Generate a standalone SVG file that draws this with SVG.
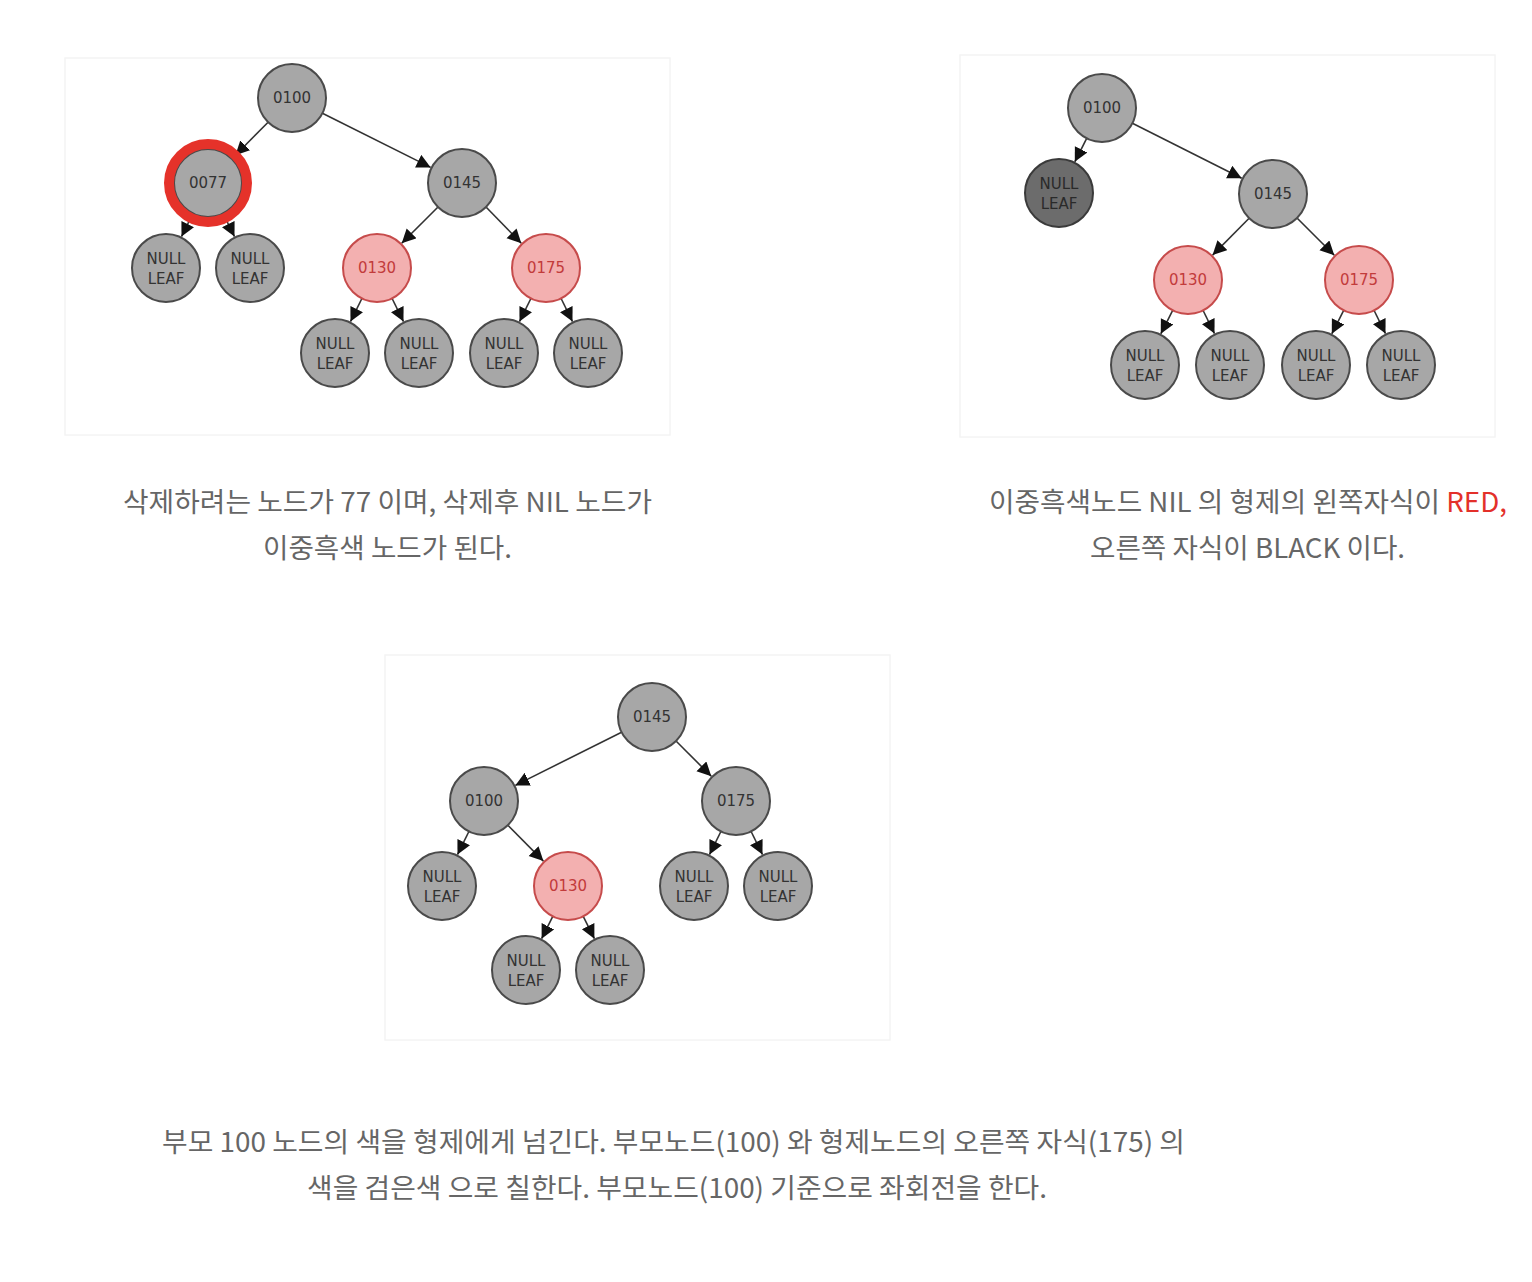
<svg xmlns="http://www.w3.org/2000/svg" width="1532" height="1282" viewBox="0 0 1532 1282">
<defs>
<marker id="arr" markerUnits="userSpaceOnUse" markerWidth="16" markerHeight="16" refX="14" refY="7" orient="auto">
<path d="M0,0 L14,7 L0,14 z" fill="#111"/>
</marker>
<style>
.frame{fill:#fff;stroke:#f4f4f4;stroke-width:1.5}
.n{fill:#a7a7a7;stroke:#4a4a4a;stroke-width:2}
.nd{fill:#6c6c6c;stroke:#3a3a3a;stroke-width:2}
.nr{fill:#f3b0b0;stroke:#c64b4b;stroke-width:2}
.ring{fill:none;stroke:#e5322a;stroke-width:10}
.t{font-family:"DejaVu Sans",sans-serif;font-size:15px;fill:#333;text-anchor:middle}
.tr{font-family:"DejaVu Sans",sans-serif;font-size:15px;fill:#c23b3b;text-anchor:middle}
.e{stroke:#333;stroke-width:1.6;fill:none;marker-end:url(#arr)}
.cap{font-family:"Noto Sans CJK KR","Noto Sans",sans-serif;font-size:27px;fill:#666;text-anchor:middle}
</style>
</defs>
<rect width="1532" height="1282" fill="#fff"/>
<rect class="frame" x="65" y="58" width="605" height="377"/>
<rect class="frame" x="960" y="55" width="535" height="382"/>
<rect class="frame" x="385" y="655" width="505" height="385"/>

<g id="connectors">
<line class="e" x1="268.1" y1="122.2" x2="235.4" y2="155.3"/>
<line class="e" x1="322.4" y1="113.2" x2="430.7" y2="167.4"/>
<line class="e" x1="192.9" y1="213.5" x2="181.5" y2="236.6"/>
<line class="e" x1="223.1" y1="213.5" x2="234.5" y2="236.6"/>
<line class="e" x1="438" y1="207" x2="401.7" y2="243.3"/>
<line class="e" x1="486" y1="207" x2="521.3" y2="243.3"/>
<line class="e" x1="361.9" y1="298.5" x2="350.5" y2="321.6"/>
<line class="e" x1="392.1" y1="298.5" x2="403.5" y2="321.6"/>
<line class="e" x1="530.9" y1="298.5" x2="519.5" y2="321.6"/>
<line class="e" x1="561.1" y1="298.5" x2="572.5" y2="321.6"/>

<line class="e" x1="1086.7" y1="138.3" x2="1074.8" y2="161.8"/>
<line class="e" x1="1132.4" y1="123.3" x2="1241.7" y2="178.3"/>
<line class="e" x1="1249.1" y1="218.2" x2="1212.6" y2="255.1"/>
<line class="e" x1="1297" y1="218" x2="1334.3" y2="255.3"/>
<line class="e" x1="1172.7" y1="310.3" x2="1160.8" y2="333.8"/>
<line class="e" x1="1203.1" y1="310.5" x2="1214.5" y2="333.6"/>
<line class="e" x1="1343.7" y1="310.3" x2="1331.8" y2="333.8"/>
<line class="e" x1="1374.1" y1="310.5" x2="1385.5" y2="333.6"/>

<line class="e" x1="621.6" y1="732.2" x2="515.3" y2="785.4"/>
<line class="e" x1="676" y1="741" x2="711.3" y2="776.3"/>
<line class="e" x1="468.9" y1="831.5" x2="457.5" y2="854.6"/>
<line class="e" x1="507.9" y1="825.2" x2="543.4" y2="861.1"/>
<line class="e" x1="720.9" y1="831.5" x2="709.5" y2="854.6"/>
<line class="e" x1="751.1" y1="831.5" x2="762.5" y2="854.6"/>
<line class="e" x1="552.8" y1="916.4" x2="541.6" y2="938.7"/>
<line class="e" x1="583.2" y1="916.4" x2="594.4" y2="938.7"/>
</g>

<!-- Panel 1 -->
<g id="p1-0100"><circle class="n" cx="292" cy="98" r="34"/><text class="t" x="292" y="103">0100</text></g>
<g id="p1-0077"><circle class="n" cx="208" cy="183" r="34"/><circle class="ring" cx="208" cy="183" r="39"/><text class="t" x="208" y="188">0077</text></g>
<g id="p1-0145"><circle class="n" cx="462" cy="183" r="34"/><text class="t" x="462" y="188">0145</text></g>
<g id="p1-leaf1"><circle class="n" cx="166" cy="268" r="34"/><text class="t" x="166" y="264">NULL</text><text class="t" x="166" y="284">LEAF</text></g>
<g id="p1-leaf2"><circle class="n" cx="250" cy="268" r="34"/><text class="t" x="250" y="264">NULL</text><text class="t" x="250" y="284">LEAF</text></g>
<g id="p1-0130"><circle class="nr" cx="377" cy="268" r="34"/><text class="tr" x="377" y="273">0130</text></g>
<g id="p1-0175"><circle class="nr" cx="546" cy="268" r="34"/><text class="tr" x="546" y="273">0175</text></g>
<g id="p1-leaf3"><circle class="n" cx="335" cy="353" r="34"/><text class="t" x="335" y="349">NULL</text><text class="t" x="335" y="369">LEAF</text></g>
<g id="p1-leaf4"><circle class="n" cx="419" cy="353" r="34"/><text class="t" x="419" y="349">NULL</text><text class="t" x="419" y="369">LEAF</text></g>
<g id="p1-leaf5"><circle class="n" cx="504" cy="353" r="34"/><text class="t" x="504" y="349">NULL</text><text class="t" x="504" y="369">LEAF</text></g>
<g id="p1-leaf6"><circle class="n" cx="588" cy="353" r="34"/><text class="t" x="588" y="349">NULL</text><text class="t" x="588" y="369">LEAF</text></g>

<!-- Panel 2 -->
<g id="p2-0100"><circle class="n" cx="1102" cy="108" r="34"/><text class="t" x="1102" y="113">0100</text></g>
<g id="p2-leafdark"><circle class="nd" cx="1059" cy="193" r="34"/><text class="t" x="1059" y="189" style="fill:#2a2a2a">NULL</text><text class="t" x="1059" y="209" style="fill:#2a2a2a">LEAF</text></g>
<g id="p2-0145"><circle class="n" cx="1273" cy="194" r="34"/><text class="t" x="1273" y="199">0145</text></g>
<g id="p2-0130"><circle class="nr" cx="1188" cy="280" r="34"/><text class="tr" x="1188" y="285">0130</text></g>
<g id="p2-0175"><circle class="nr" cx="1359" cy="280" r="34"/><text class="tr" x="1359" y="285">0175</text></g>
<g id="p2-leaf1"><circle class="n" cx="1145" cy="365" r="34"/><text class="t" x="1145" y="361">NULL</text><text class="t" x="1145" y="381">LEAF</text></g>
<g id="p2-leaf2"><circle class="n" cx="1230" cy="365" r="34"/><text class="t" x="1230" y="361">NULL</text><text class="t" x="1230" y="381">LEAF</text></g>
<g id="p2-leaf3"><circle class="n" cx="1316" cy="365" r="34"/><text class="t" x="1316" y="361">NULL</text><text class="t" x="1316" y="381">LEAF</text></g>
<g id="p2-leaf4"><circle class="n" cx="1401" cy="365" r="34"/><text class="t" x="1401" y="361">NULL</text><text class="t" x="1401" y="381">LEAF</text></g>

<!-- Panel 3 -->
<g id="p3-0145"><circle class="n" cx="652" cy="717" r="34"/><text class="t" x="652" y="722">0145</text></g>
<g id="p3-0100"><circle class="n" cx="484" cy="801" r="34"/><text class="t" x="484" y="806">0100</text></g>
<g id="p3-0175"><circle class="n" cx="736" cy="801" r="34"/><text class="t" x="736" y="806">0175</text></g>
<g id="p3-leaf1"><circle class="n" cx="442" cy="886" r="34"/><text class="t" x="442" y="882">NULL</text><text class="t" x="442" y="902">LEAF</text></g>
<g id="p3-0130"><circle class="nr" cx="568" cy="886" r="34"/><text class="tr" x="568" y="891">0130</text></g>
<g id="p3-leaf2"><circle class="n" cx="694" cy="886" r="34"/><text class="t" x="694" y="882">NULL</text><text class="t" x="694" y="902">LEAF</text></g>
<g id="p3-leaf3"><circle class="n" cx="778" cy="886" r="34"/><text class="t" x="778" y="882">NULL</text><text class="t" x="778" y="902">LEAF</text></g>
<g id="p3-leaf4"><circle class="n" cx="526" cy="970" r="34"/><text class="t" x="526" y="966">NULL</text><text class="t" x="526" y="986">LEAF</text></g>
<g id="p3-leaf5"><circle class="n" cx="610" cy="970" r="34"/><text class="t" x="610" y="966">NULL</text><text class="t" x="610" y="986">LEAF</text></g>

<!-- Captions -->
<g id="caption1">
<text class="cap" x="387.5" y="512" textLength="529" lengthAdjust="spacingAndGlyphs">삭제하려는 노드가 77 이며, 삭제후 NIL 노드가</text>
<text class="cap" x="387.5" y="558" textLength="249" lengthAdjust="spacingAndGlyphs">이중흑색 노드가 된다.</text>
</g>
<g id="caption2">
<text class="cap" x="1248" y="512" textLength="518" lengthAdjust="spacingAndGlyphs">이중흑색노드 NIL 의 형제의 왼쪽자식이 <tspan fill="#e3302a">RED,</tspan></text>
<text class="cap" x="1247.5" y="558" textLength="315" lengthAdjust="spacingAndGlyphs">오른쪽 자식이 BLACK 이다.</text>
</g>
<g id="caption3">
<text class="cap" x="673.5" y="1152" textLength="1023" lengthAdjust="spacingAndGlyphs">부모 100 노드의 색을 형제에게 넘긴다. 부모노드(100) 와 형제노드의 오른쪽 자식(175) 의</text>
<text class="cap" x="677" y="1198" textLength="740" lengthAdjust="spacingAndGlyphs">색을 검은색 으로 칠한다. 부모노드(100) 기준으로 좌회전을 한다.</text>
</g>
</svg>
